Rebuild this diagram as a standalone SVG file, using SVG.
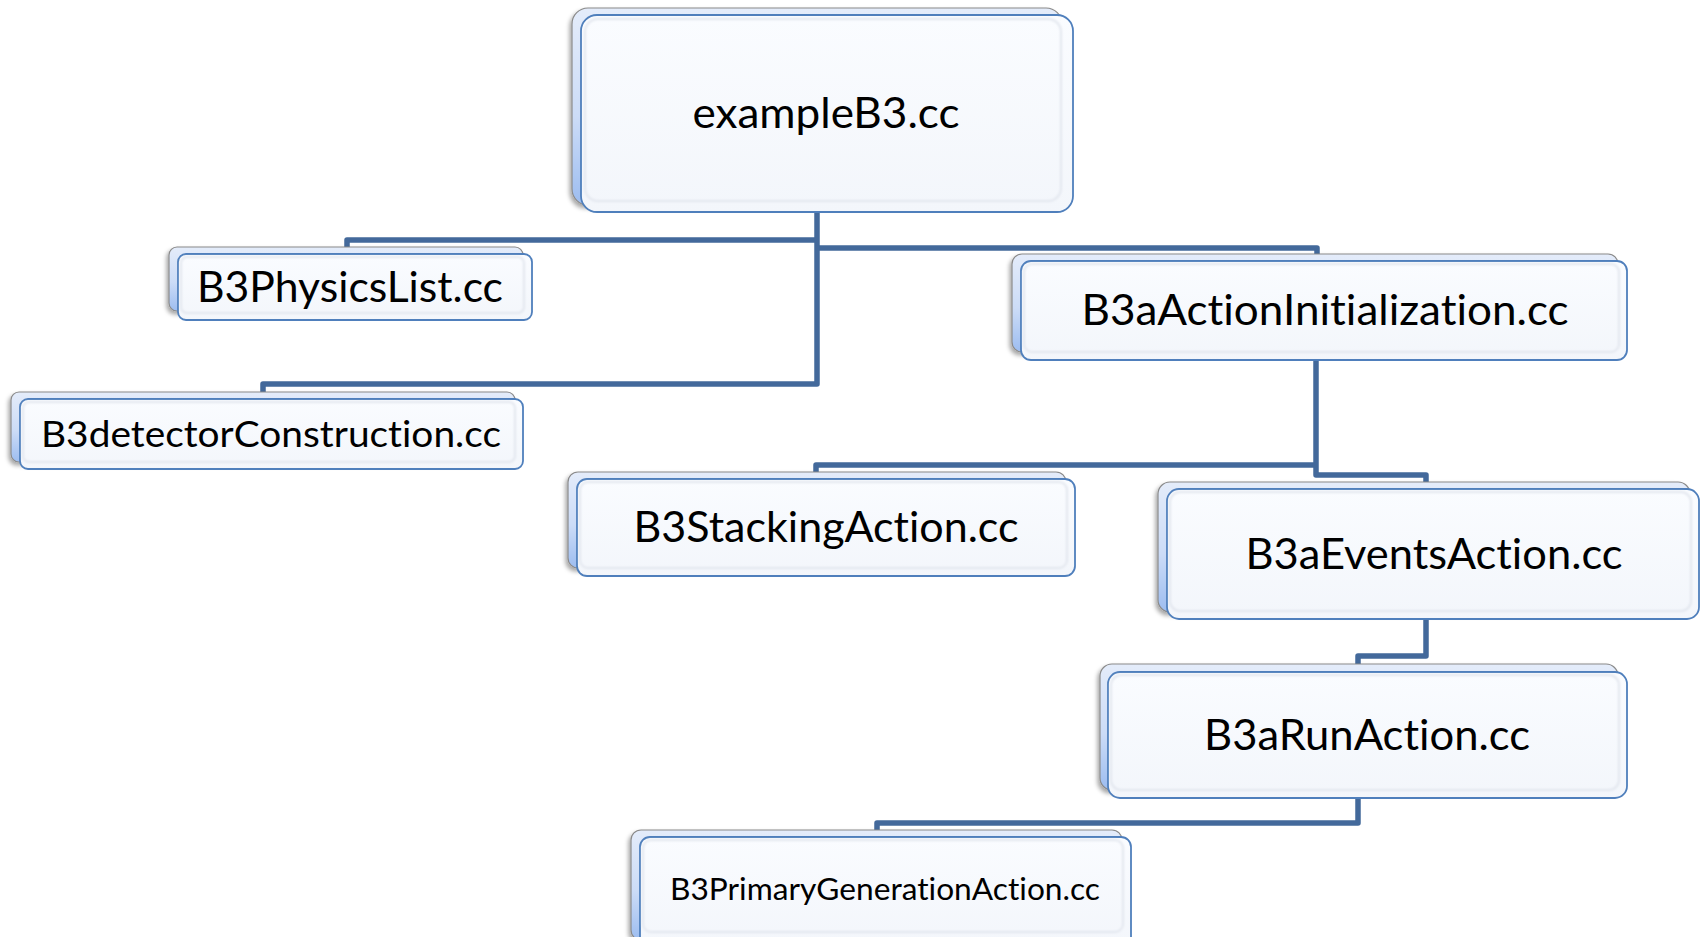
<svg xmlns="http://www.w3.org/2000/svg" width="1704" height="937" viewBox="0 0 1704 937">
<defs>
<linearGradient id="backGrad" x1="0" y1="0" x2="0" y2="1">
<stop offset="0" stop-color="#E4ECFA"/>
<stop offset="0.55" stop-color="#CCDCF7"/>
<stop offset="1" stop-color="#9DBDF0"/>
</linearGradient>
<linearGradient id="frontGrad" x1="0" y1="0" x2="0" y2="1">
<stop offset="0" stop-color="#FAFCFF"/>
<stop offset="1" stop-color="#F3F6FB"/>
</linearGradient>
<filter id="shadow" x="-5%" y="-10%" width="110%" height="125%">
<feDropShadow dx="-2" dy="3" stdDeviation="2" flood-color="#000" flood-opacity="0.35"/>
</filter>
<filter id="soft" x="-5%" y="-10%" width="110%" height="120%">
<feGaussianBlur stdDeviation="1.2"/>
</filter>
</defs>
<style>
.back{fill:url(#backGrad);stroke:#8A8A8A;stroke-width:1.2;filter:url(#shadow)}
.front{fill:url(#frontGrad);stroke:#4F7FBC;stroke-width:1.8}
.inner{fill:none;stroke:#E2E6EE;stroke-width:2;filter:url(#soft)}
.lbl{font-family:Lato,"Open Sans","Liberation Sans",sans-serif;fill:#000;text-anchor:middle;font-variant-ligatures:none}
.conn{fill:none;stroke:#43699B;stroke-width:5.5;stroke-linejoin:round;stroke-linecap:butt}
</style>
<rect width="1704" height="937" fill="#FFFFFF"/>
<g id="connectors">
<path class="conn" d="M817,212 V384 H263 V392"/>
<path class="conn" d="M817,240 H347 V249"/>
<path class="conn" d="M817,248 H1317 V256"/>
<path class="conn" d="M1316,360 V475 H1426 V484"/>
<path class="conn" d="M1316,465 H816 V474"/>
<path class="conn" d="M1426,619 V656 H1358 V666"/>
<path class="conn" d="M1358,798 V823 H877 V832"/>
</g>
<g id="node-exampleB3">
<rect class="back" x="572" y="8" width="490" height="197" rx="16"/>
<rect class="front" x="581" y="15" width="492" height="197" rx="16"/>
<rect class="inner" x="585" y="19" width="476" height="182" rx="13"/>
<text class="lbl" x="826" y="128" font-size="42" textLength="267" lengthAdjust="spacingAndGlyphs">exampleB3.cc</text>
</g>
<g id="node-physicslist">
<rect class="back" x="169" y="247" width="354" height="64" rx="8"/>
<rect class="front" x="178" y="254" width="354" height="66" rx="8"/>
<rect class="inner" x="181" y="257" width="343" height="56" rx="6"/>
<text class="lbl" x="350" y="302" font-size="42" textLength="306" lengthAdjust="spacingAndGlyphs">B3PhysicsList.cc</text>
</g>
<g id="node-detector">
<rect class="back" x="11" y="392" width="504" height="70" rx="8"/>
<rect class="front" x="20" y="399" width="503" height="70" rx="8"/>
<rect class="inner" x="23" y="402" width="492" height="60" rx="6"/>
<text class="lbl" x="271" y="447" font-size="37" textLength="460" lengthAdjust="spacingAndGlyphs">B3detectorConstruction.cc</text>
</g>
<g id="node-actioninit">
<rect class="back" x="1012" y="254" width="606" height="98" rx="10"/>
<rect class="front" x="1021" y="261" width="606" height="99" rx="10"/>
<rect class="inner" x="1024" y="264" width="595" height="88" rx="8"/>
<text class="lbl" x="1325" y="325" font-size="42" textLength="487" lengthAdjust="spacingAndGlyphs">B3aActionInitialization.cc</text>
</g>
<g id="node-stacking">
<rect class="back" x="568" y="472" width="498" height="96" rx="10"/>
<rect class="front" x="577" y="479" width="498" height="97" rx="10"/>
<rect class="inner" x="580" y="482" width="487" height="86" rx="8"/>
<text class="lbl" x="826" y="542" font-size="42" textLength="385" lengthAdjust="spacingAndGlyphs">B3StackingAction.cc</text>
</g>
<g id="node-events">
<rect class="back" x="1158" y="482" width="532" height="130" rx="12"/>
<rect class="front" x="1167" y="489" width="532" height="130" rx="12"/>
<rect class="inner" x="1170" y="492" width="521" height="119" rx="10"/>
<text class="lbl" x="1434" y="569" font-size="42" textLength="377" lengthAdjust="spacingAndGlyphs">B3aEventsAction.cc</text>
</g>
<g id="node-run">
<rect class="back" x="1100" y="664" width="518" height="126" rx="12"/>
<rect class="front" x="1108" y="672" width="519" height="126" rx="12"/>
<rect class="inner" x="1111" y="675" width="508" height="115" rx="10"/>
<text class="lbl" x="1367" y="750" font-size="42" textLength="326" lengthAdjust="spacingAndGlyphs">B3aRunAction.cc</text>
</g>
<g id="node-primary">
<rect class="back" x="631" y="830" width="491" height="110" rx="10"/>
<rect class="front" x="640" y="837" width="491" height="110" rx="10"/>
<rect class="inner" x="643" y="840" width="480" height="92" rx="8"/>
<text class="lbl" x="885" y="900" font-size="30" textLength="430" lengthAdjust="spacingAndGlyphs">B3PrimaryGenerationAction.cc</text>
</g>
</svg>
